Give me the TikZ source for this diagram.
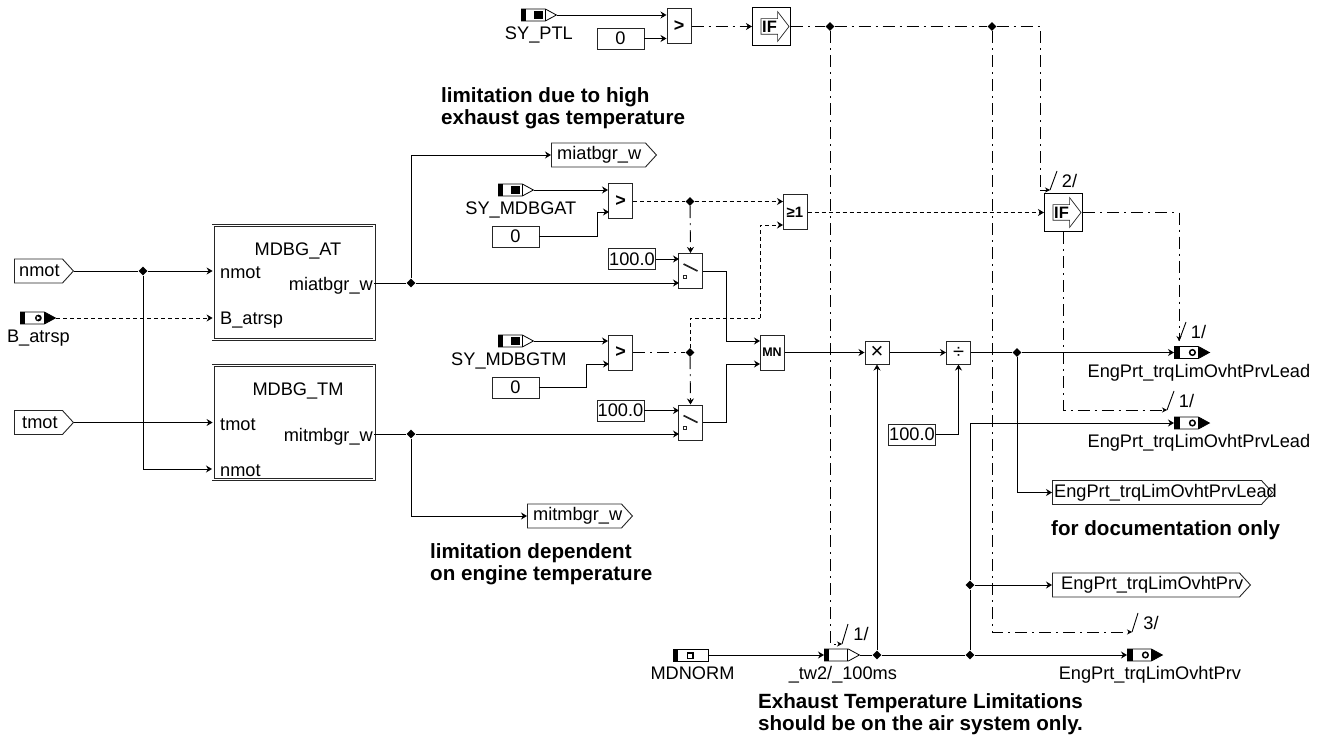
\documentclass[tikz,border=0pt]{standalone}
\usepackage{fontspec}
\setmainfont{Liberation Sans}
\usetikzlibrary{arrows.meta,positioning,shapes.geometric,shapes.symbols,shapes.arrows,calc}
\newcommand{\bbx}{path picture bounding box}
\tikzset{
  every node/.style={font=\fontsize{18.2}{22}\selectfont, inner sep=0pt},
  wire/.style={-{Stealth[length=6pt,width=7pt]}, draw=black, line width=0.9pt},
  plain/.style={draw=black, line width=0.9pt},
  dots/.style={draw=black, line width=0.9pt, dash pattern=on 4pt off 3pt},
  ctrl/.style={draw=black, line width=0.9pt, dash pattern=on 12pt off 5pt on 2pt off 5pt},
  slashmark/.style={draw=black, line width=0.9pt},
  tickno/.style={font=\fontsize{18.2}{22}\selectfont},
  junct/.style={diamond, fill=black, minimum size=9pt},
  modul/.style={rectangle, draw=black!85, double, double distance=1.4pt, line width=0.8pt,
    minimum width=161pt, minimum height=114pt},
  gate/.style={rectangle, draw=black!85, line width=1pt, fill=white, minimum width=24pt, minimum height=35pt},
  oper/.style={gate, minimum height=23pt},
  ifgate/.style={rectangle, draw=black, line width=1.1pt, fill=white, minimum width=38pt, minimum height=38pt},
  ifmark/.style={single arrow, draw=black!85, line width=0.7pt, minimum height=28pt,
    inner xsep=0pt, inner ysep=7.5pt, single arrow head extend=7pt, single arrow tip angle=105,
    label={[font=\fontsize{16.5}{16.5}\selectfont\bfseries, xshift=-2.5pt]center:IF}},
  switchgate/.style={gate, path picture={
    \draw[line width=1.6pt] ([shift={(-7,-7)}]\bbx.center) -- ([shift={(7,0)}]\bbx.center);
    \draw[line width=0.9pt] ([shift={(-7,4)}]\bbx.center) rectangle ([shift={(-4,7)}]\bbx.center);}},
  valbox/.style={rectangle, draw=black!85, line width=0.9pt, fill=white, minimum width=47pt, minimum height=21pt},
  flag/.style={signal, signal to=east, signal pointer angle=95, draw=black!85, line width=0.9pt, minimum height=24pt, anchor=west},
  flagtext/.style={inner sep=0pt},
  note/.style={align=left, anchor=west, font=\fontsize{20.6}{22}\selectfont\bfseries},
  sigcore/.style={signal, signal to=east, signal pointer angle=57, draw=black, line width=0.8pt,
    minimum width=35pt, minimum height=12pt, anchor=west},
  sigpar/.style={sigcore, path picture={
    \fill (\bbx.south west) rectangle ([xshift=5pt]\bbx.north west);
    \fill ([shift={(13pt,2pt)}]\bbx.south west) rectangle ([shift={(22pt,-2pt)}]\bbx.north west);
    \draw ([xshift=24pt]\bbx.south west) -- ([xshift=24pt]\bbx.north west);}},
  sigtask/.style={sigcore, path picture={
    \fill (\bbx.south west) rectangle ([xshift=5pt]\bbx.north west);
    \draw ([xshift=23pt]\bbx.south west) -- ([xshift=23pt]\bbx.north west);}},
  sigin/.style={sigcore, path picture={
    \fill (\bbx.south west) rectangle ([xshift=5pt]\bbx.north west);
    \fill ([xshift=24pt]\bbx.south west) rectangle (\bbx.north east);
    \fill ([xshift=18pt]\bbx.west) circle (3.4pt);
    \fill[white] ([shift={(16.5pt,1.8pt)}]\bbx.west) -- ([shift={(16.5pt,-1.8pt)}]\bbx.west) -- ([xshift=20pt]\bbx.west) -- cycle;}},
  sigout/.style={sigcore, path picture={
    \fill (\bbx.south west) rectangle ([xshift=6pt]\bbx.north west);
    \fill ([xshift=24pt]\bbx.south west) rectangle (\bbx.north east);
    \draw[line width=1.5pt] ([xshift=18pt]\bbx.west) circle (2.8pt);}},
  signorm/.style={rectangle, draw=black, line width=0.8pt, minimum width=35pt, minimum height=12pt, path picture={
    \fill (\bbx.south west) rectangle ([xshift=5pt]\bbx.north west);
    \fill ([shift={(14pt,-3.5pt)}]\bbx.west) rectangle ([shift={(21pt,3.5pt)}]\bbx.west);
    \fill[white] ([shift={(15pt,-2.5pt)}]\bbx.west) rectangle ([shift={(19pt,1.5pt)}]\bbx.west);}},
  siglabel/.style={text height=13pt, text depth=4pt},
}
\begin{document}
\begin{tikzpicture}[x=1pt,y=-1pt]
  \useasboundingbox (0,0) rectangle (1320,738);

  % inputs and the two modules
  \node[flag, minimum width=59pt] (nmot) at (14,271) {};
  \node[flagtext, right=5pt of nmot.west] (nmotText) {nmot};
  \node[flag, minimum width=59pt] (tmot) at (14,422.5) {};
  \node[flagtext, right=8pt of tmot.west] (tmotText) {tmot};
  \node[sigin] (batrsp) at (20,318) {};
  \node[siglabel, below=5pt of batrsp, xshift=6pt] (batrspText) {B\_atrsp};
  \node[modul] (mdbgAt) at (293.5,282.5) {};
  \node[modul] (mdbgTm) at (293.5,422.5) {};
  \node[anchor=base] (atTitle) at (298,255) {MDBG\_AT};
  \node[anchor=base] (tmTitle) at (298,395) {MDBG\_TM};
  \node[anchor=base west] (atPortA) at (220,278) {nmot};
  \node[anchor=base west] (atPortB) at (220,324) {B\_atrsp};
  \node[anchor=base east] (atPortC) at (373,290) {miatbgr\_w};
  \node[anchor=base west] (tmPortA) at (220,430) {tmot};
  \node[anchor=base west] (tmPortB) at (220,476) {nmot};
  \node[anchor=base east] (tmPortC) at (373,441) {mitmbgr\_w};
  \node[junct] (jNmot) at (143,271) {};
  \coordinate (tmIn) at (212,469);
  \draw[wire] (nmot.east) -- (jNmot) -- (jNmot -| mdbgAt.west);
  \draw[wire] (jNmot) |- (tmIn);
  \draw[wire] (tmot.east) -- (tmot.east -| mdbgTm.west);
  \draw[dots, -{Stealth[length=6pt,width=7pt]}] (batrsp.east) -- (batrsp.east -| mdbgAt.west);

  % module outputs
  \node[junct] (jMiat) at (411,283) {};
  \node[junct] (jMit) at (411,434) {};
  \node[flag, minimum width=105pt] (flagMiat) at (551,155) {};
  \node[flagtext, right=6pt of flagMiat.west] (flagMiatText) {miatbgr\_w};
  \node[flag, minimum width=105pt] (flagMit) at (527,516) {};
  \node[flagtext, right=6pt of flagMit.west] (flagMitText) {mitmbgr\_w};
  \node[note] (noteHigh) at (441,108) {limitation due to high\\exhaust gas temperature};
  \node[note] (noteEng) at (430,564) {limitation dependent\\on engine temperature};
  \draw[plain] (jMiat -| mdbgAt.east) -- (jMiat);
  \draw[plain] (jMit -| mdbgTm.east) -- (jMit);
  \draw[wire] (jMiat) |- (flagMiat.west);
  \draw[wire] (jMit) |- (flagMit.west);

  % PTL path
  \node[sigpar] (syPtl) at (521,15) {};
  \node[siglabel, below=5pt of syPtl, xshift=5.5pt] (syPtlText) {SY\_PTL};
  \node[valbox] (zeroPtl) at (620.5,38.5) {0};
  \node[gate, font=\fontsize{18}{18}\selectfont\bfseries] (cmpPtl) at (679,26.5) {>};
  \node[ifgate] (ifPtl) at (771.5,26.5) {};
  \node[ifmark] (ifPtlMark) at (772,26.5) {};
  \node[junct] (jCtlA) at (830,26.5) {};
  \node[junct] (jCtlB) at (992,26.5) {};
  \draw[wire] (syPtl.east) -- (syPtl.east -| cmpPtl.west);
  \draw[wire] (zeroPtl.east) -- (zeroPtl.east -| cmpPtl.west);
  \draw[ctrl, -{Stealth[length=6pt,width=7pt]}] (cmpPtl.east) -- (ifPtl.west);
  \draw[ctrl] (ifPtl.east) -- (jCtlA) -- (jCtlB);

  % AT branch
  \node[sigpar] (syAt) at (498,190) {};
  \node[siglabel, below=5pt of syAt, xshift=10.5pt] (syAtText) {SY\_MDBGAT};
  \node[valbox] (zeroAt) at (515.5,236.5) {0};
  \node[gate, font=\fontsize{18}{18}\selectfont\bfseries] (cmpAt) at (620.5,201.5) {>};
  \coordinate (kneeAt) at (597,212);
  \coordinate (cmpAtB) at (609,212);
  \node[junct] (jAt) at (690,201.5) {};
  \node[valbox] (valA) at (632,259) {100.0};
  \node[switchgate] (swA) at (690.5,271) {};
  \coordinate (swAtA) at (679,259);
  \coordinate (swAtB) at (679,283);
  \draw[wire] (syAt.east) -- (syAt.east -| cmpAt.west);
  \draw[plain] (zeroAt.east) -| (kneeAt);
  \draw[wire] (kneeAt) -- (cmpAtB);
  \draw[dots] (cmpAt.east) -- (jAt);
  \draw[ctrl, -{Stealth[length=6pt,width=7pt]}] (jAt) -- (swA.north);
  \draw[wire] (valA.east) -- (swAtA);
  \draw[wire] (jMiat) -- (swAtB);

  % TM branch
  \node[sigpar] (syTm) at (498,341) {};
  \node[siglabel, below=5pt of syTm, xshift=-1.5pt] (syTmText) {SY\_MDBGTM};
  \node[valbox] (zeroTm) at (515.5,387.5) {0};
  \node[gate, font=\fontsize{18}{18}\selectfont\bfseries] (cmpTm) at (620.5,352.5) {>};
  \coordinate (kneeTm) at (586,364);
  \coordinate (cmpTmB) at (609,364);
  \node[junct] (jTm) at (690,352.5) {};
  \node[valbox] (valB) at (620.5,410.5) {100.0};
  \node[switchgate] (swB) at (690.5,422.5) {};
  \coordinate (swTmA) at (679,410.5);
  \coordinate (swTmB) at (679,434);
  \draw[wire] (syTm.east) -- (syTm.east -| cmpTm.west);
  \draw[plain] (zeroTm.east) -| (kneeTm);
  \draw[wire] (kneeTm) -- (cmpTmB);
  \draw[ctrl] (cmpTm.east) -- (jTm);
  \draw[ctrl, -{Stealth[length=6pt,width=7pt]}] (jTm) -- (swB.north);
  \draw[wire] (valB.east) -- (swTmA);
  \draw[wire] (jMit) -- (swTmB);

  % or gate and second IF
  \node[gate, font=\fontsize{15}{15}\selectfont\bfseries] (orGate) at (795,212.5) {≥1};
  \node[ifgate] (ifOr) at (1063.5,212.5) {};
  \node[ifmark] (ifOrMark) at (1064,212.5) {};
  \coordinate (orA) at (783,201.5);
  \coordinate (orB) at (783,225);
  \coordinate (dotA) at (690,318);
  \coordinate (dotB) at (760,318);
  \draw[dots, -{Stealth[length=6pt,width=7pt]}] (jAt) -- (orA);
  \draw[dots] (jTm) -- (dotA) -- (dotB);
  \draw[dots, -{Stealth[length=6pt,width=7pt]}] (dotB) |- (orB);
  \draw[dots, -{Stealth[length=6pt,width=7pt]}] (orGate.east) -- (ifOr.west);

  % min, product, quotient
  \node[gate, font=\fontsize{12.5}{13}\selectfont\bfseries] (minGate) at (772,352.5) {MN};
  \node[oper] (mulBox) at (877,352.5) {\fontsize{22}{22}\selectfont ×};
  \node[oper] (divBox) at (958.5,352.5) {\fontsize{20}{20}\selectfont ÷};
  \node[valbox] (valC) at (912,434.5) {100.0};
  \coordinate (kneeA) at (726,341);
  \coordinate (kneeB) at (726,364);
  \coordinate (minA) at (760,341);
  \coordinate (minB) at (760,364);
  \draw[plain] (swA.east) -| (kneeA);
  \draw[wire] (kneeA) -- (minA);
  \draw[plain] (swB.east) -| (kneeB);
  \draw[wire] (kneeB) -- (minB);
  \draw[wire] (minGate.east) -- (mulBox.west);
  \draw[wire] (mulBox.east) -- (divBox.west);
  \draw[wire] (valC.east) -| (divBox.south);

  % outputs
  \node[junct] (jDiv) at (1017,352.5) {};
  \node[sigout] (leadA) at (1174,352.5) {};
  \node[siglabel, below=5pt of leadA, xshift=12.5pt] (leadAText) {EngPrt\_trqLimOvhtPrvLead};
  \node[sigout] (leadB) at (1174,423) {};
  \node[siglabel, below=5pt of leadB, xshift=12.5pt] (leadBText) {EngPrt\_trqLimOvhtPrvLead};
  \node[flag, minimum width=220pt] (flagLead) at (1052,492.5) {};
  \node[flagtext, right=2pt of flagLead.west] (flagLeadText) {EngPrt\_trqLimOvhtPrvLead};
  \node[note] (noteDoc) at (1051,530) {for documentation only};
  \node[flag, minimum width=198pt] (flagPrv) at (1052,585) {};
  \node[flagtext, right=9pt of flagPrv.west] (flagPrvText) {EngPrt\_trqLimOvhtPrv};
  \node[sigout] (prvOut) at (1127,655) {};
  \node[siglabel, below=5pt of prvOut, xshift=10.5pt] (prvOutText) {EngPrt\_trqLimOvhtPrv};
  \node[signorm] (mdnorm) at (690.5,655) {};
  \node[siglabel, below=5pt of mdnorm, xshift=2pt] (mdnormText) {MDNORM};
  \node[sigtask] (tw2) at (824,655) {};
  \node[siglabel, below=5pt of tw2, xshift=6.5pt] (tw2Text) {\_tw2/\_100ms};
  \node[junct] (jTw) at (877,655) {};
  \node[junct] (jBot) at (970,655) {};
  \node[junct] (jMid) at (970,585) {};
  \coordinate (cornerLead) at (970,423);
  \node[note] (noteAir) at (758,714) {Exhaust Temperature Limitations\\should be on the air system only.};
  \draw[wire] (mdnorm.east) -- (tw2.west);
  \draw[plain] (tw2.east) -- (jTw) -- (jBot);
  \draw[wire] (jBot) -- (prvOut.west);
  \draw[wire] (jTw) -- (mulBox.south);
  \draw[plain] (jBot) -- (jMid) -- (cornerLead);
  \draw[wire] (cornerLead) -- (leadB.west);
  \draw[wire] (jMid) -- (flagPrv.west);
  \draw[plain] (divBox.east) -- (jDiv);
  \draw[wire] (jDiv) -- (leadA.west);
  \draw[wire] (jDiv) |- (flagLead.west);

  % enable lines
  \coordinate (tapTw) at (842,644);
  \coordinate (tapIf) at (1050,190);
  \coordinate (kneeIf) at (1040,190);
  \coordinate (tapLeadA) at (1179,341);
  \coordinate (tapLeadB) at (1167,410);
  \coordinate (tapPrv) at (1132,632);
  \draw[ctrl, -{Stealth[length=5pt,width=5pt]}] (jCtlA) |- (tapTw);
  \draw[ctrl, -{Stealth[length=5pt,width=5pt]}] (jCtlB) |- (tapPrv);
  \draw[ctrl] (jCtlB) -| (kneeIf);
  \draw[ctrl, -{Stealth[length=5pt,width=5pt]}] (kneeIf) -- (tapIf);
  \draw[ctrl, -{Stealth[length=5pt,width=5pt]}] (ifOr.east) -| (tapLeadA);
  \draw[ctrl, -{Stealth[length=5pt,width=5pt]}] (ifOr.south) |- (tapLeadB);
  \draw[slashmark] (tapTw) -- ++(6,-20) node[midway, right=8pt, tickno] (tickTw) {1/};
  \draw[slashmark] (tapIf) -- ++(7,-19) node[midway, right=8pt, tickno] (tickIf) {2/};
  \draw[slashmark] (tapLeadA) -- ++(7,-19) node[midway, right=8pt, tickno] (tickLeadA) {1/};
  \draw[slashmark] (tapLeadB) -- ++(7,-19) node[midway, right=8pt, tickno] (tickLeadB) {1/};
  \draw[slashmark] (tapPrv) -- ++(6,-19) node[midway, right=8pt, tickno] (tickPrv) {3/};
\end{tikzpicture}
\end{document}
